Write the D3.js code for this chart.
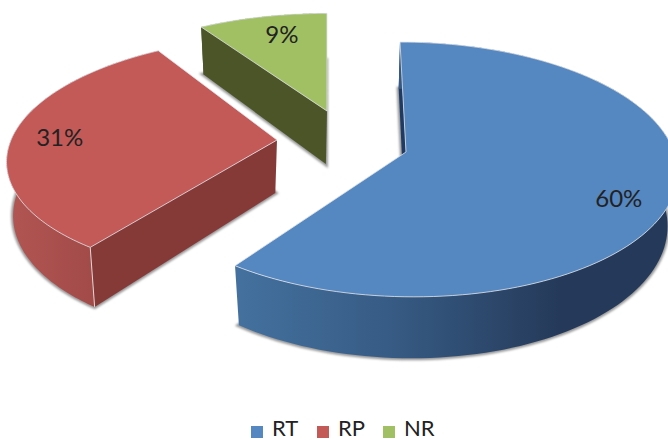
<!DOCTYPE html>
<html>
<head>
<meta charset="utf-8">
<script src="https://cdnjs.cloudflare.com/ajax/libs/d3/7.8.5/d3.min.js"></script>
<style>
  body { margin: 0; background: #fff; }
  text { font-family: Lato, "Open Sans", sans-serif; fill: #222; }
</style>
</head>
<body>
<svg id="chart" width="668" height="440"></svg>
<script>
// chart values
const categories = ["RT", "RP", "NR"]
const shares     = [60, 31, 9]

// colours per slice
const topColors  = ["#5587c1", "#c45a58", "#a1c064"]
const edgeColors = ["#1f3a63", "#863a38", "#4b5527"]

// each exploded slice has its own apex on screen
const apexX  = [406, 277, 327]
const apexY  = [152, 140, 111]
const shearX = [-6.8, 12, 0]     // lean of the pie's vertical axis
const scaleX = [268, 266, 262]
const scaleY = [125, 118, 111]
const vanish = [350, 220, 290]   // walls lean towards this x
const labelR = [0.8, 0.81, 0.72]
const labelDx = [0, -3, 3]
const labelDy = [17, 3, -4]

const persp     = 0.137          // front of the pie is closer
const depth     = 53
const lean      = 0.03

const svg  = d3.select("#chart")
const defs = svg.append("defs")

defs.append("filter").attr("id", "soft")
  .attr("x", "-10%").attr("y", "-10%").attr("width", "120%").attr("height", "120%")
  .append("feGaussianBlur").attr("stdDeviation", 1.3)

// wall gradients, running across the visible part of the rim
const wallStops = [
  [[0, "#44719f"], [0.35, "#375c85"], [0.75, "#253a5a"], [1, "#253a5a"]],
  [[0, "#b25552"], [1, "#a04a48"]],
  [[0, "#4b5527"], [1, "#4b5527"]]
]
const wallRange = [[235, 668], [10, 100], [200, 330]]
wallStops.forEach((stops, i) => {
  const g = defs.append("linearGradient").attr("id", "wall" + i)
    .attr("gradientUnits", "userSpaceOnUse")
    .attr("x1", wallRange[i][0]).attr("x2", wallRange[i][1])
    .attr("y1", 0).attr("y2", 0)
  stops.forEach(s => g.append("stop").attr("offset", s[0]).attr("stop-color", s[1]))
})

const pie = d3.pie().sort(null).startAngle(0).endAngle(2 * Math.PI)
const slices = pie(shares)

const line = d3.line().x(d => d[0]).y(d => d[1]).curve(d3.curveLinear)

// angle clockwise from the top, r as a part of the radius
function project(i, angle, r) {
  const p = r * Math.sin(angle)
  const q = r * Math.cos(angle)
  const w = 1 / (1 + persp * q)
  return [
    apexX[i] + (scaleX[i] * p + shearX[i] * q) * w,
    apexY[i] - scaleY[i] * q * w,
    w
  ]
}

// the same point on the underside of the pie
function lower(i, pt) {
  const d = depth * pt[2]
  return [pt[0] - lean * (pt[0] - vanish[i]) * d / depth, pt[1] + d]
}

function rim(i, d) {
  return d3.range(0, 121).map(k =>
    project(i, d.startAngle + (d.endAngle - d.startAngle) * k / 120, 1))
}

const order = [2, 1, 0]
order.forEach(i => {
  const d    = slices[i]
  const g    = svg.append("g")
  const arc  = rim(i, d)
  const apex = project(i, 0, 0)
  const under = arc.map(pt => lower(i, pt))
  const first = arc[0]

  // soft shadow, from the underside
  g.append("path")
    .attr("d", line(under.concat([lower(i, apex)])) + "Z")
    .attr("fill", "#999").attr("stroke", "#999").attr("stroke-width", 4)
    .attr("filter", "url(#soft)")

  // wall along the start edge
  g.append("path")
    .attr("d", line([first, apex, lower(i, apex), lower(i, first)]) + "Z")
    .attr("fill", edgeColors[i])

  // curved wall
  g.append("path")
    .attr("d", line(arc.concat(under.slice().reverse())) + "Z")
    .attr("fill", "url(#wall" + i + ")")

  // edge highlight on the corner of the two walls
  if (i === 1) {
    g.append("path")
      .attr("d", line([first, lower(i, first)]))
      .attr("stroke", "#e2d6d6").attr("stroke-width", 1).attr("fill", "none")
  }

  // top face
  g.append("path")
    .attr("d", line(arc.concat([apex])) + "Z")
    .attr("fill", topColors[i])
    .attr("stroke", "#dfe3e8").attr("stroke-width", 0.8)

  // percentage label
  const mid = (d.startAngle + d.endAngle) / 2
  const lp  = project(i, mid, labelR[i])
  g.append("text")
    .attr("x", lp[0] + labelDx[i]).attr("y", lp[1] + labelDy[i])
    .attr("text-anchor", "middle").attr("dominant-baseline", "middle")
    .attr("font-size", 24)
    .text(d.data + "%")
})

// legend
const legendX = d3.scalePoint().domain(categories).range([251, 383])
const legend = svg.append("g")
categories.forEach((c, i) => {
  legend.append("rect")
    .attr("x", legendX(c)).attr("y", 426)
    .attr("width", 12).attr("height", 12)
    .attr("fill", topColors[i])
  legend.append("text")
    .attr("x", legendX(c) + 21).attr("y", 436)
    .attr("font-size", 22)
    .text(c)
})
</script>
</body>
</html>
